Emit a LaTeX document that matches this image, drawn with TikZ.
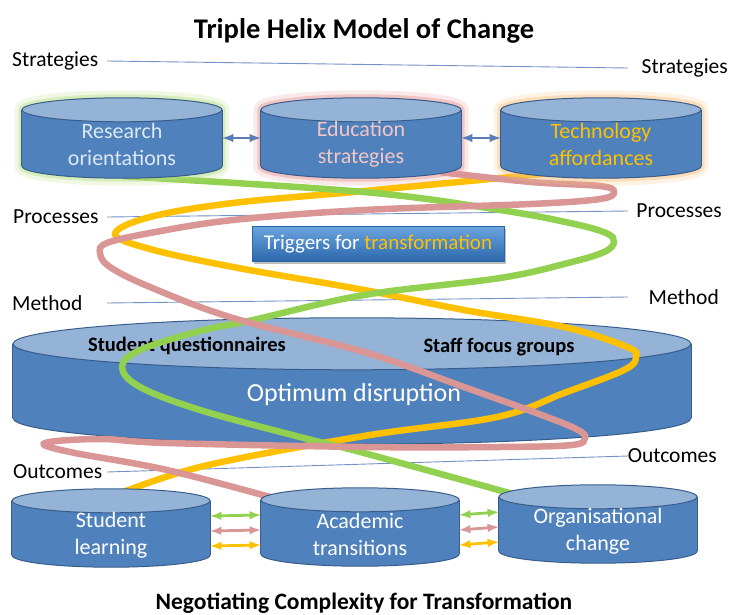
\documentclass[tikz,border=0pt]{standalone}
\usepackage{fontspec}
\setmainfont{Carlito}
\usepackage{tikz}
\usetikzlibrary{shadows}
\usetikzlibrary{calc}

\definecolor{drumblue}{HTML}{4F81BD}
\definecolor{drumtop}{HTML}{95B3D7}
\definecolor{drumedge}{HTML}{385D8A}
\definecolor{linkblue}{HTML}{5A7DB5}
\definecolor{levelblue}{HTML}{7391C4}
\definecolor{helixgreen}{HTML}{92D050}
\definecolor{helixpink}{HTML}{D99694}
\definecolor{helixorange}{HTML}{FFC000}
\definecolor{glowgreen}{HTML}{B9E08A}
\definecolor{glowpink}{HTML}{E89A9A}
\definecolor{gloworange}{HTML}{F8C486}
\definecolor{inkgreen}{HTML}{DCE8F2}
\definecolor{inkpink}{HTML}{F3C6C6}
\definecolor{trigtop}{HTML}{6AA5E0}
\definecolor{trigbottom}{HTML}{2B66AA}

\pgfdeclarelayer{base}
\pgfdeclarelayer{strands}
\pgfsetlayers{base,strands,main}

\tikzstyle{topdrum}=[inner sep=0pt,minimum width=200pt,minimum height=80pt]
\tikzstyle{lowdrum}=[inner sep=0pt,minimum width=198pt,minimum height=78pt]
\tikzstyle{drumtext}=[font=\fontsize{22}{27}\selectfont,align=center,inner sep=0pt]
\tikzstyle{level}=[font=\fontsize{21.5}{25}\selectfont,inner sep=0pt]
\tikzstyle{levelline}=[draw=levelblue,line width=0.9pt]
\tikzstyle{strand}=[draw=#1,line width=6.5pt]
\tikzstyle{twoway}=[draw=#1,line width=2.8pt,<->,>=latex]
\tikzset{drumrim/.style={draw=drumedge,line width=1pt}}
\tikzset{glowing/.style={draw=#1,draw opacity=.45,line width=7pt,line cap=round,line join=round,preaction={draw=#1,draw opacity=.22,line width=15pt,line cap=round,line join=round}}}

% drum around a named node: name, half width, end radius
\newcommand{\drawdrum}[3]{%
  \filldraw[drumrim,fill=drumblue] ($(#1.south)+(0,-#3)$) ellipse [x radius=#2pt,y radius=#3pt];
  \fill[drumblue] ($(#1.north west)+(0,#3)$) rectangle ($(#1.south east)+(0,-#3)$);
  \draw[drumrim] ($(#1.north west)+(0,#3)$) -- ($(#1.south west)+(0,-#3)$)
                 ($(#1.north east)+(0,#3)$) -- ($(#1.south east)+(0,-#3)$);
  \filldraw[drumrim,fill=drumtop] ($(#1.north)+(0,#3)$) ellipse [x radius=#2pt,y radius=#3pt];
}
% halo round a drum: name, half width, end radius, colour
\newcommand{\glowdrum}[4]{%
  \draw[glowing=#4] ($(#1.south)+(0,-#3)$) ellipse [x radius=#2pt,y radius=#3pt]
    ($(#1.north west)+(0,#3)$) -- ($(#1.south west)+(0,-#3)$)
    ($(#1.north east)+(0,#3)$) -- ($(#1.south east)+(0,-#3)$)
    ($(#1.north)+(0,#3)$) ellipse [x radius=#2pt,y radius=#3pt];
}

\begin{document}
\begin{tikzpicture}[x=1pt,y=-1pt]
\useasboundingbox (0,0) rectangle (729,615);

% titles
\node[font=\fontsize{28.5}{33}\selectfont\bfseries] (title) at (364,31) {Triple Helix Model of Change};
\node[font=\fontsize{23.5}{27}\selectfont\bfseries] (footer) at (364,603) {Negotiating Complexity for Transformation};

% level labels
\foreach \name/\xl/\yl/\xr/\yr/\txt in {strat/12/61/728/68/Strategies, proc/13/217/722/211/Processes, meth/12/303/719/297/Method, outc/13/472/717/456/Outcomes}
  {
  \node[level,anchor=west] (L\name) at (\xl,\yl) {\txt};
  \node[level,anchor=east] (R\name) at (\xr,\yr) {\txt};
  }
\coordinate (lx) at (107,0);
\coordinate (rx) at (628,0);

\begin{pgfonlayer}{base}
\foreach \name in {strat,proc,meth,outc}
  \draw[levelline] (L\name -| lx) -- (R\name -| rx);

%Method drum
\node[inner sep=0pt,minimum width=678pt,minimum height=126pt] (disrupt) at (352,381) {};
\drawdrum{disrupt}{339}{26}
\node[font=\fontsize{20.5}{24}\selectfont\bfseries,inner sep=0pt] (quest) at (187,346) {Student questionnaires};
\node[font=\fontsize{20.5}{24}\selectfont\bfseries,inner sep=0pt] (staff) at (499,347) {Staff focus groups};
\node[font=\fontsize{26}{30}\selectfont,text=white,inner sep=0pt] (optimum) at (354,395) {Optimum disruption};
\end{pgfonlayer}

%Strategies
\foreach \x/\name/\glow/\ink/\txt in {122/research/glowgreen/inkgreen/{Research\\orientations}, 361/education/glowpink/inkpink/{Education\\strategies}, 601/technology/gloworange/helixorange/{Technology\\affordances}}
  {
  \node[topdrum] (\name) at (\x,138) {};
  \glowdrum{\name}{100}{12}{\glow}
  \drawdrum{\name}{100}{12}
  \node[drumtext,text=\ink] (\name-t) at ($(\name.center)+(0,6)$) {\txt};
  }
\draw[twoway=linkblue] (research) -- (education);
\draw[twoway=linkblue] (education) -- (technology);

%Processes
\node[draw=trigbottom,top color=trigtop,bottom color=trigbottom,drop shadow,minimum width=252pt,minimum height=35pt,font=\fontsize{21}{24}\selectfont,text=white] (trigger) at (378,244) {Triggers for \textcolor{helixorange}{transformation}};

%Outcomes
\foreach \x/\y/\name/\txt in {111/528/student/{Student\\learning}, 360/527/academic/{Academic\\transitions}, 598/524/organisational/{Organisational\\change}}
  {
  \node[lowdrum] (\name) at (\x,\y) {};
  \drawdrum{\name}{99}{12}
  \node[drumtext,text=white] (\name-t) at ($(\name.center)+(0,7)$) {\txt};
  }
\foreach \dy/\c in {12/helixgreen, -3/helixpink, -18/helixorange}
  {
  \draw[twoway=\c] ([yshift=\dy pt]student.east) -- ([yshift=\dy pt]academic.west);
  \draw[twoway=\c] ([yshift=\dy pt]academic.east) -- ([yshift=\dy pt]organisational.west);
  }

% helix strands
\begin{pgfonlayer}{strands}
\draw[strand=helixorange] plot[smooth,tension=0.6] coordinates {([xshift=-40pt,yshift=6pt]technology.south) (364,191) (233,203) (150,217) (115,234) (150,249) (233,267) (364,290) (464,310) (564,327) (627,347) (636,357) (624,370) (564,393) (497,417) (364,436) (200,467) ([xshift=-10pt,yshift=-12pt]student.north)};
\draw[strand=helixgreen] plot[smooth,tension=0.6] coordinates {([yshift=2pt]research.south) (364,192) (500,210) (570,223) (606,233) (614,242) (604,252) (568,263) (500,278) (364,295) (253,320) (200,331) (140,350) (122,367) (140,387) (200,410) (300,437) (364,453) ([xshift=-75pt,yshift=-12pt]organisational.north)};
\draw[strand=helixpink] plot[smooth,tension=0.6] coordinates {([xshift=80pt,yshift=6pt]education.south) (531,182) (600,186) (614,192) (600,199) (531,204) (364,210) (233,220) (150,233) (107,243) (100,253) (110,267) (150,287) (233,318) (364,352) (464,387) (547,417) (578,430) (585,438) (572,445) (500,447) (364,447) (167,443) (100,439) (45,443) (70,452) (167,470) ([xshift=-80pt,yshift=-12pt]academic.north)};
\end{pgfonlayer}

\end{tikzpicture}
\end{document}
